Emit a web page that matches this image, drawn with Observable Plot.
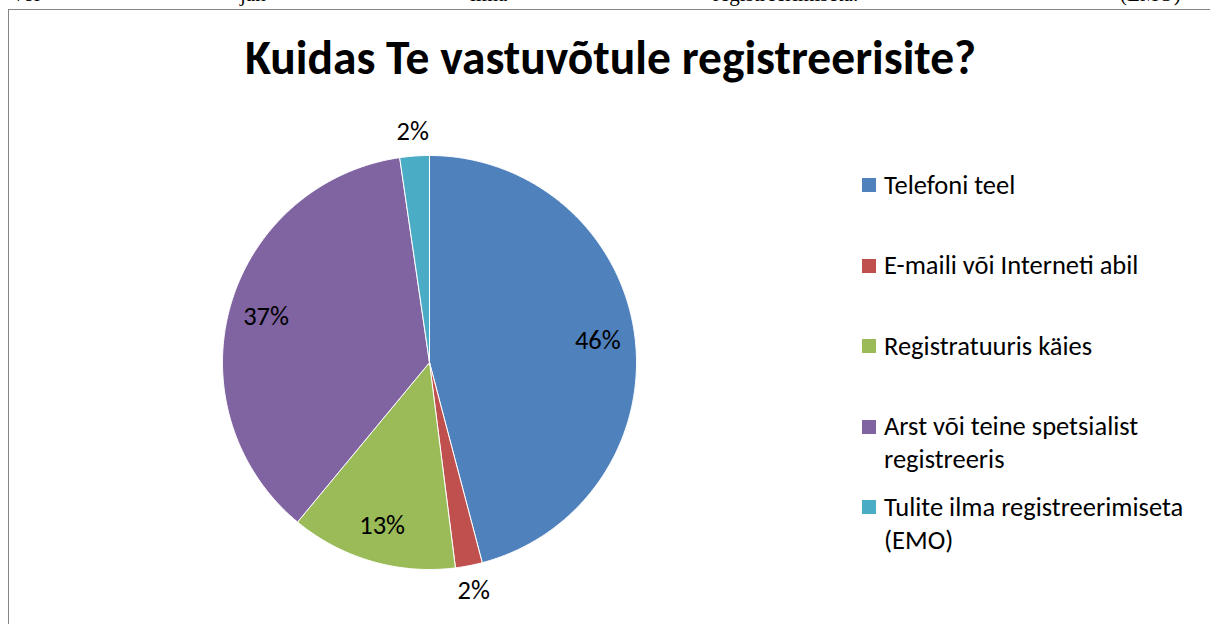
<!DOCTYPE html>
<html>
<head>
<meta charset="utf-8">
<script src="https://cdn.jsdelivr.net/npm/d3@7"></script>
<script src="https://cdn.jsdelivr.net/npm/@observablehq/plot@0.6"></script>
<style>
  html, body { margin: 0; padding: 0; background: #fff; }
  body { width: 1210px; height: 624px; position: relative; overflow: hidden; font-family: Carlito, Lato, "Liberation Sans", sans-serif; }
  #frame { position: absolute; left: 8px; top: 9px; width: 1400px; height: 800px; border-left: 1.5px solid #858585; border-top: 1.5px solid #858585; }
  #chart { position: absolute; left: 0; top: 0; }
  #title { position: absolute; left: 0; width: 1221px; top: 32px; text-align: center; font-weight: 700; font-size: 47.5px; line-height: 52px; color: #000; white-space: nowrap; }
  .leg { position: absolute; left: 862px; }
  .leg .sw { position: absolute; left: 0; top: 9.5px; width: 14px; height: 14px; }
  .leg .tx { position: absolute; left: 22px; top: 0; width: 320px; font-size: 26.5px; line-height: 33px; color: #000; }
  .doc { position: absolute; top: -16px; font-family: "Liberation Serif", "Times New Roman", serif; font-size: 21px; line-height: 21px; color: #000; white-space: nowrap; }
</style>
</head>
<body>
<div id="frame"></div>
<div id="chart"></div>
<div id="title"></div>
<div id="legend"></div>
<div id="doc"></div>
<script>
// ---- data ----
const chartTitle = "Kuidas Te vastuvõtule registreerisite?";
const categories = [
  "Telefoni teel",
  "E-maili või Interneti abil",
  "Registratuuris käies",
  "Arst või teine spetsialist registreeris",
  "Tulite ilma registreerimiseta (EMO)"
];
const shares = [45.9, 2.1, 13.0, 36.7, 2.3];
const colors = ["#4F81BD", "#C0504D", "#9BBB59", "#8064A2", "#4BACC6"];
const docWords = ["või", "jah", "ilma", "registreerimiseta.", "(EMO)"];

// ---- build ----
const table = categories.map((cat, i) => ({cat, share: shares[i]}));
const total = d3.sum(shares);
const arcs = d3.pie().sort(null).value(d => d.share)(table);

const pts = [];
const labels = [];
for (const a of arcs) {
  const cat = a.data.cat;
  pts.push({cat, x: 0, y: 0});
  const n = Math.max(2, Math.ceil((a.endAngle - a.startAngle) / (Math.PI / 360)));
  for (let k = 0; k <= n; k++) {
    const t = a.startAngle + (a.endAngle - a.startAngle) * k / n;
    pts.push({cat, x: Math.sin(t), y: Math.cos(t)});
  }
  pts.push({cat, x: 0, y: 0});
  const mid = (a.startAngle + a.endAngle) / 2;
  const pct = a.data.share / total * 100;
  const rr = pct > 5 ? 0.82 : 1.12;
  labels.push({x: rr * Math.sin(mid), y: rr * Math.cos(mid), text: Math.round(pct) + "%"});
}

const chart = Plot.plot({
  width: 1210,
  height: 624,
  margin: 0,
  style: {background: "transparent", overflow: "visible"},
  x: {domain: [-1, 1], range: [222, 636], axis: null},
  y: {domain: [-1, 1], range: [569, 155], axis: null},
  color: {domain: categories, range: colors},
  marks: [
    Plot.line(pts, {x: "x", y: "y", z: "cat", fill: "cat", stroke: "white", strokeWidth: 1, strokeLinejoin: "round", curve: "linear"}),
    Plot.text(labels, {x: "x", y: "y", text: "text", fill: "black", fontSize: 26.5, fontFamily: "Carlito, Lato, sans-serif"})
  ]
});
document.getElementById("chart").appendChild(chart);

document.getElementById("title").textContent = chartTitle;

const leg = document.getElementById("legend");
categories.forEach((cat, i) => {
  const item = document.createElement("div");
  item.className = "leg";
  item.style.top = (168.5 + i * 80.5) + "px";
  const sw = document.createElement("div");
  sw.className = "sw";
  sw.style.background = colors[i];
  const tx = document.createElement("div");
  tx.className = "tx";
  tx.textContent = cat;
  item.appendChild(sw);
  item.appendChild(tx);
  leg.appendChild(item);
});

const docX = [13, 240, 470, 713, 1120];
const doc = document.getElementById("doc");
docWords.forEach((w, i) => {
  const s = document.createElement("span");
  s.className = "doc";
  s.style.left = docX[i] + "px";
  s.textContent = w;
  doc.appendChild(s);
});
</script>
</body>
</html>
